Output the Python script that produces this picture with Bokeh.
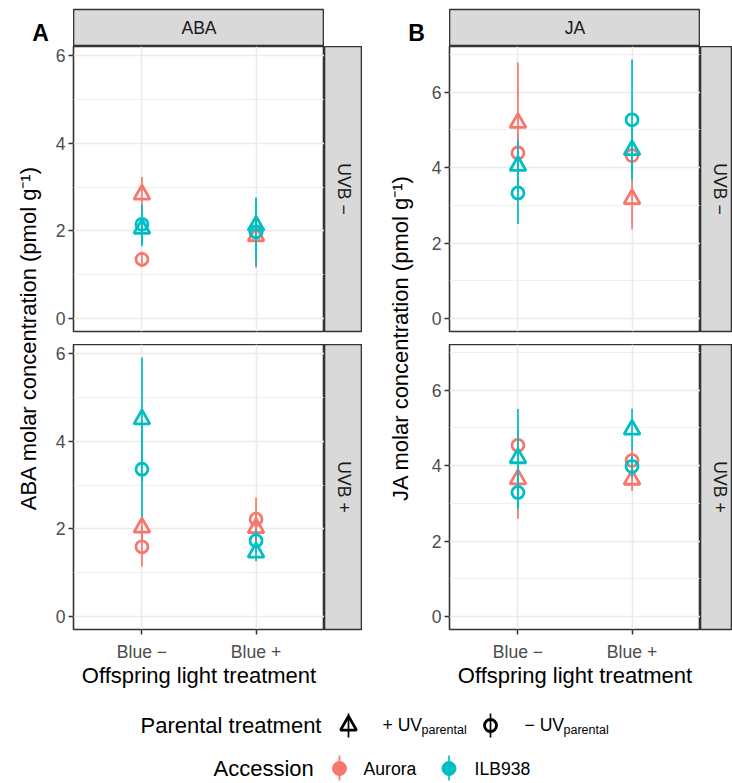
import math
from bokeh.plotting import figure
from bokeh.models import Range1d, FactorRange, SingleIntervalTicker, ColumnDataSource, Spacer
from bokeh.layouts import row, column
from bokeh.core.properties import value
from bokeh.embed import file_html
from bokeh.resources import INLINE

# ---------------- data ----------------
offspring = ["Blue −", "Blue +"]
uvb_levels = ["UVB −", "UVB +"]
hormones = ["ABA", "JA"]
accessions = ["Aurora", "ILB938"]
acc_colors = ["#F8766D", "#00BFC4"]
parental = ["+UV", "−UV"]
parental_markers = ["triangle", "circle"]

row_accession = ["Aurora", "Aurora", "Aurora", "Aurora", "ILB938", "ILB938", "ILB938", "ILB938"]
row_parental = ["+UV", "+UV", "−UV", "−UV", "+UV", "+UV", "−UV", "−UV"]
row_offspring = ["Blue −", "Blue +", "Blue −", "Blue +", "Blue −", "Blue +", "Blue −", "Blue +"]

aba_uvb_minus_mean = [2.83, 1.88, 1.35, 1.97, 2.05, 2.12, 2.15, 1.98]
aba_uvb_minus_se = [0.40, 0.72, 0.18, 0.30, 0.40, 0.62, 0.45, 0.78]
aba_uvb_plus_mean = [2.03, 2.02, 1.59, 2.22, 4.50, 1.46, 3.36, 1.73]
aba_uvb_plus_se = [0.30, 0.30, 0.45, 0.49, 1.41, 0.20, 1.10, 0.25]
ja_uvb_minus_mean = [5.19, 3.17, 4.39, 4.32, 4.05, 4.47, 3.33, 5.27]
ja_uvb_minus_se = [1.60, 0.80, 0.50, 0.35, 0.70, 0.60, 0.82, 1.60]
ja_uvb_plus_mean = [3.64, 3.63, 4.54, 4.14, 4.20, 4.96, 3.29, 3.98]
ja_uvb_plus_se = [1.05, 0.30, 0.40, 0.30, 1.30, 0.55, 0.45, 0.30]

FONT = value("Liberation Sans")
GRID = "#ebebeb"
MK_LW = 2.8


def yrange(means, ses):
    hi = max(m + s for ms, ss in zip(means, ses) for m, s in zip(ms, ss))
    lo = 0.0
    pad = 0.05 * (hi - lo)
    return Range1d(lo - pad, hi + pad)


def canvas(w, h):
    p = figure(width=w, height=h, x_range=Range1d(0, w), y_range=Range1d(0, h),
               output_backend="svg", toolbar_location=None, title=None,
               x_axis_location=None, y_axis_location=None, min_border=0)
    p.outline_line_color = None
    p.background_fill_color = "white"
    p.border_fill_color = "white"
    p.grid.grid_line_color = None
    return p


def strip(w, h, label, full_w=None, vertical=False, bottom=0, top=0):
    fw = full_w if full_w is not None else w
    fh = h - bottom - top
    p = figure(width=w, height=h, x_range=Range1d(0, w), y_range=Range1d(0, fh),
               output_backend="svg", toolbar_location=None, title=None,
               x_axis_location=None, y_axis_location=None, min_border=0,
               min_border_bottom=bottom, min_border_top=top)
    p.grid.grid_line_color = None
    p.background_fill_color = "#d9d9d9"
    p.border_fill_color = "white"
    p.outline_line_color = "#333333"
    p.outline_line_width = 1.6
    p.text(x=[fw / 2], y=[fh / 2], text=[label], angle=-math.pi / 2 if vertical else 0,
           text_align="center", text_baseline="middle", text_font=FONT,
           text_font_size="17.6px", text_color="#1a1a1a")
    return p


def panel(mean, se, yr, show_x):
    h = 346 if show_x else 298
    p = figure(width=280, height=h,
               x_range=FactorRange(factors=offspring, range_padding=0.1), y_range=yr,
               output_backend="svg", toolbar_location=None, title=None,
               min_border_left=29, min_border_right=0, min_border_top=0,
               min_border_bottom=61 if show_x else 13)
    p.background_fill_color = "white"
    p.border_fill_color = "white"
    p.outline_line_color = "#333333"
    p.outline_line_width = 1.6
    p.yaxis.ticker = SingleIntervalTicker(interval=2, num_minor_ticks=2)
    for ax in [p.xaxis[0], p.yaxis[0]]:
        ax.axis_line_color = None
        ax.major_tick_out = 5
        ax.major_tick_in = 0
        ax.minor_tick_out = 0
        ax.minor_tick_in = 0
        ax.major_tick_line_color = "#333333"
        ax.major_tick_line_width = 1.5
        ax.major_label_text_font = "Liberation Sans"
        ax.major_label_text_font_size = "17.6px"
        ax.major_label_text_color = "#4d4d4d"
        ax.major_label_standoff = 3
    if show_x:
        p.xaxis.major_label_standoff = 7
        p.xaxis.axis_label = "Offspring light treatment"
        p.xaxis.axis_label_text_font = "Liberation Sans"
        p.xaxis.axis_label_text_font_size = "22px"
        p.xaxis.axis_label_text_font_style = "normal"
        p.xaxis.axis_label_text_color = "black"
        p.xaxis.axis_label_standoff = -2
    else:
        p.xaxis.visible = False
    p.xgrid.grid_line_color = GRID
    p.xgrid.grid_line_width = 1.6
    p.ygrid.grid_line_color = GRID
    p.ygrid.grid_line_width = 1.6
    p.ygrid.minor_grid_line_color = GRID
    p.ygrid.minor_grid_line_width = 0.8
    for acc, col in zip(accessions, acc_colors):
        for par, mk in zip(parental, parental_markers):
            idx = [i for i in range(len(mean)) if row_accession[i] == acc and row_parental[i] == par]
            src = ColumnDataSource(dict(
                x=[row_offspring[i] for i in idx],
                y=[mean[i] for i in idx],
                lo=[mean[i] - se[i] for i in idx],
                hi=[mean[i] + se[i] for i in idx],
            ))
            p.segment(x0="x", y0="lo", x1="x", y1="hi", source=src,
                      line_color=col, line_width=1.7)
            p.scatter(x="x", y="y", source=src, marker=mk,
                      size=16 if mk == "triangle" else 12,
                      fill_color=None, line_color=col, line_width=MK_LW)
    return p


def ylabel_fig(w, h, text, cx):
    p = canvas(w, h)
    p.text(x=[cx], y=[h - 291.5], text=[text], angle=math.pi / 2,
           text_align="center", text_baseline="middle", text_font=FONT,
           text_font_size="22px", text_color="black")
    return p


def tag_fig(w, h, text, cx):
    p = canvas(w, h)
    p.text(x=[cx], y=[h - 29], text=[text], text_align="center", text_baseline="middle",
           text_font=FONT, text_font_size="23px", text_font_style="bold", text_color="black")
    return p


# ---------------- build ----------------
aba_range = yrange([aba_uvb_minus_mean, aba_uvb_plus_mean], [aba_uvb_minus_se, aba_uvb_plus_se])
ja_range = yrange([ja_uvb_minus_mean, ja_uvb_plus_mean], [ja_uvb_minus_se, ja_uvb_plus_se])

pA1 = panel(aba_uvb_minus_mean, aba_uvb_minus_se, aba_range, False)
pA2 = panel(aba_uvb_plus_mean, aba_uvb_plus_se, aba_range, True)
pB1 = panel(ja_uvb_minus_mean, ja_uvb_minus_se, ja_range, False)
pB2 = panel(ja_uvb_plus_mean, ja_uvb_plus_se, ja_range, True)

top_row = row(
    tag_fig(73, 46, "A", 40), strip(251, 46, hormones[0], top=9), Spacer(width=38, height=46),
    tag_fig(87, 46, "B", 54), strip(251, 46, hormones[1], top=9), Spacer(width=32, height=46),
)

colA = column(
    row(pA1, strip(38, 298, uvb_levels[0], vertical=True, bottom=13)),
    row(pA2, strip(38, 346, uvb_levels[1], vertical=True, bottom=61)),
)
colB = column(
    row(pB1, strip(32, 298, uvb_levels[0], full_w=38, vertical=True, bottom=13)),
    row(pB2, strip(32, 346, uvb_levels[1], full_w=38, vertical=True, bottom=61)),
)

main_row = row(
    ylabel_fig(44, 644, "ABA molar concentration (pmol g⁻¹)", 28), colA,
    ylabel_fig(58, 644, "JA molar concentration (pmol g⁻¹)", 38), colB,
)

# legend (page y 690..783)
LH = 93
leg = canvas(732, LH)
leg.text(x=[140], y=[LH - 35], text=["Parental treatment"], text_align="left", text_baseline="middle",
         text_font=FONT, text_font_size="22px", text_color="black")
key_x = [348, 490]
lab_x = [382, 524]
for kx, lx, par, mk in zip(key_x, lab_x, parental, parental_markers):
    leg.segment(x0=[kx], y0=[LH - 47], x1=[kx], y1=[LH - 23], line_color="black", line_width=1.7)
    leg.scatter(x=[kx], y=[LH - 35], marker=mk, size=16 if mk == "triangle" else 12,
                fill_color=None, line_color="black", line_width=MK_LW)
    leg.text(x=[lx], y=[LH - 34], text=[par[0] + " " + par[1:]], text_align="left", text_baseline="middle",
             text_font=FONT, text_font_size="17.6px", text_color="black")
    leg.text(x=[lx + 39], y=[LH - 39], text=["parental"], text_align="left", text_baseline="middle",
             text_font=FONT, text_font_size="12.5px", text_color="black")

leg.text(x=[213], y=[LH - 78], text=["Accession"], text_align="left", text_baseline="middle",
         text_font=FONT, text_font_size="22px", text_color="black")
acc_key_x = [339, 448.5]
acc_lab_x = [363, 474]
for kx, lx, acc, col in zip(acc_key_x, acc_lab_x, accessions, acc_colors):
    leg.segment(x0=[kx], y0=[LH - 90], x1=[kx], y1=[LH - 65], line_color=col, line_width=1.7)
    leg.scatter(x=[kx], y=[LH - 78], marker="circle", size=14, fill_color=col, line_color=col, line_width=1)
    leg.text(x=[lx], y=[LH - 78], text=[acc], text_align="left", text_baseline="middle",
             text_font=FONT, text_font_size="17.6px", text_color="black")

layout = column(top_row, main_row, leg)

open("out.html", "w").write(file_html(layout, INLINE))
